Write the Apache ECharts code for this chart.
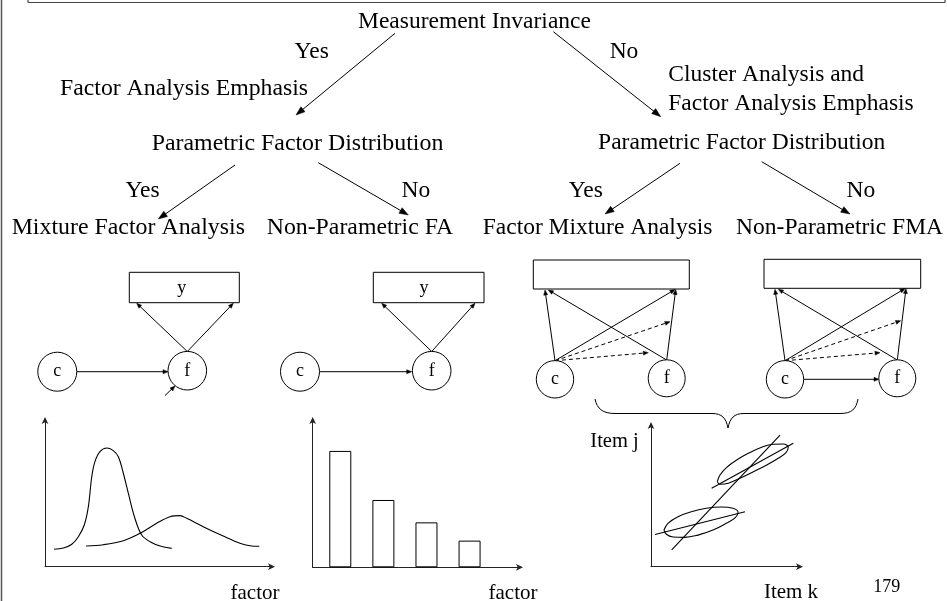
<!DOCTYPE html>
<html>
<head>
<meta charset="utf-8">
<script src="https://cdn.jsdelivr.net/npm/echarts@6/dist/echarts.min.js"></script>
<style>
html,body{margin:0;padding:0;background:#fff;}
#chart{width:947px;height:601px;}
</style>
</head>
<body>
<div id="chart"></div>
<script>
// ---------- DATA ----------
const rootLabel = 'Measurement Invariance';
const branchLabels = ['Yes', 'No'];
const emphasisLabels = ['Factor Analysis Emphasis', 'Cluster Analysis and', 'Factor Analysis Emphasis'];
const distLabel = 'Parametric Factor Distribution';
const modelNames = ['Mixture Factor Analysis', 'Non-Parametric FA', 'Factor Mixture Analysis', 'Non-Parametric FMA'];
const nodeLabels = ['c', 'f', 'y'];
const axisNames = ['factor', 'factor', 'Item j', 'Item k'];
const pageNumber = '179';

// left chart: two factor densities (x = factor, y = density)
const narrowDensity = [[4.0,11.9],[8.1,12.7],[11.8,15.3],[14.7,20.4],[17.3,28.4],[19.1,40.9],[20.6,61.3],[22.0,71.6],[24.2,78.4],[27.2,80.9],[29.8,79.5],[32.3,75.0],[34.5,63.7],[36.7,50.1],[39.6,33.0],[42.6,21.6],[46.3,17.0],[50.7,14.1],[55.8,12.5]];
const wideDensity = [[18.1,14.1],[25.7,15.0],[34.5,17.7],[41.9,22.8],[49.2,29.6],[55.1,34.1],[59.5,34.8],[62.4,33.0],[69.7,27.3],[78.5,20.9],[85.9,16.0],[90.3,14.3],[94.4,13.9]];

// middle chart: non-parametric factor distribution (mass points)
const massPoints = [1, 2, 3, 4];
const massValues = [79.0, 45.7, 30.5, 18.1];

// right chart: item k vs item j, two class ellipses and regression lines
const upperEllipse = [[44.5,60.0],[46.3,64.7],[50.8,70.1],[57.5,75.3],[65.3,80.0],[74.3,84.3],[82.1,86.4],[88.8,86.6],[92.1,84.3],[90.6,80.5],[85.4,76.5],[77.7,71.8],[68.7,67.0],[59.7,62.4],[51.9,58.9],[46.3,58.2],[44.5,60.0]];
const lowerEllipse = [[8.7,25.9],[11.4,30.6],[18.1,35.3],[27.0,38.8],[37.1,41.2],[47.2,42.1],[55.0,41.2],[58.4,38.4],[56.6,34.6],[50.5,30.6],[41.6,25.9],[31.5,22.3],[22.6,20.7],[14.8,21.0],[10.3,22.9],[8.7,25.9]];
const overallLine = [[13.9,11.8],[86.6,92.9]];
const upperClassLine = [[40.7,55.3],[95.5,87.1]];
const lowerClassLine = [[2.7,22.7],[63.1,38.8]];

// ---------- HELPERS ----------
const FONT = '"Liberation Serif", "Times New Roman", serif';
const mctx = document.createElement('canvas').getContext('2d');
function measure(str, fs) { mctx.font = fs + 'px ' + FONT; return mctx.measureText(str).width; }
function txt(str, x, y, w, fs, align) {
  const sx = w ? w / measure(str, fs) : 1;
  return {
    type: 'text', x: x, y: y, scaleX: sx, silent: true,
    style: { text: str, font: fs + 'px ' + FONT, fill: '#000',
      textAlign: align || 'center', align: align || 'center',
      textVerticalAlign: 'middle', verticalAlign: 'middle' }
  };
}
function seg(x1, y1, x2, y2, dash, color, lw) {
  return { type: 'line', silent: true, shape: { x1: x1, y1: y1, x2: x2, y2: y2 },
    style: { stroke: color || '#000', lineWidth: lw || 1, lineDash: dash ? [4, 3] : null } };
}
function arrow(x1, y1, x2, y2, L, W, dash) {
  const dx = x2 - x1, dy = y2 - y1, d = Math.hypot(dx, dy), ux = dx / d, uy = dy / d;
  const bx = x2 - ux * L, by = y2 - uy * L, px = -uy * W, py = ux * W;
  return [seg(x1, y1, bx + ux * 1, by + uy * 1, dash),
    { type: 'polygon', silent: true, shape: { points: [[x2, y2], [bx + px, by + py], [bx - px, by - py]] },
      style: { fill: '#000', stroke: '#000', lineWidth: 0.5 } }];
}
function circ(cx, cy, r) {
  return { type: 'circle', silent: true, shape: { cx: cx, cy: cy, r: r }, style: { fill: '#fff', stroke: '#000', lineWidth: 1 } };
}
function box(x, y, w, h) {
  return { type: 'rect', silent: true, shape: { x: x, y: y, width: w, height: h }, style: { fill: '#fff', stroke: '#000', lineWidth: 1 } };
}
function bez(x1, y1, c1x, c1y, c2x, c2y, x2, y2) {
  return { type: 'bezierCurve', silent: true, shape: { x1: x1, y1: y1, cpx1: c1x, cpy1: c1y, cpx2: c2x, cpy2: c2y, x2: x2, y2: y2 },
    style: { stroke: '#000', lineWidth: 1, fill: 'none' } };
}

const FS = 23.5, NFS = 18;
const g = [];
// frame
g.push(seg(1.5, 0, 1.5, 601, false, '#555', 1.5));
g.push(seg(28, 2.5, 945, 2.5, false, '#444', 1.2));
g.push(seg(28, 0, 28, 2.5, false, '#444', 1.2));
g.push(seg(945, 0, 945, 2.5, false, '#444', 1.2));

// decision tree texts
g.push(txt(rootLabel, 358, 21.5, 0, FS, 'left'));
g.push(txt(branchLabels[0], 311.7, 51.5, 0, FS));
g.push(txt(branchLabels[1], 624, 51.5, 0, FS));
g.push(txt(emphasisLabels[0], 60, 88.5, 248, FS, 'left'));
g.push(txt(emphasisLabels[1], 668.3, 74.5, 0, FS, 'left'));
g.push(txt(emphasisLabels[2], 668.3, 103.5, 0, FS, 'left'));
g.push(txt(distLabel, 297.5, 144, 291.7, FS));
g.push(txt(distLabel, 741.7, 142.5, 0, FS));
g.push(txt(branchLabels[0], 142.5, 191, 0, FS));
g.push(txt(branchLabels[1], 415.8, 191, 0, FS));
g.push(txt(branchLabels[0], 585.8, 191, 0, FS));
g.push(txt(branchLabels[1], 860.8, 191, 0, FS));
g.push(txt(modelNames[0], 128.3, 228, 233.3, FS));
g.push(txt(modelNames[1], 360, 228, 186.6, FS));
g.push(txt(modelNames[2], 482.7, 228, 0, FS, 'left'));
g.push(txt(modelNames[3], 943, 228, 0, FS, 'right'));

// decision tree arrows
g.push(...arrow(395, 33.3, 296, 115, 9, 3.2));
g.push(...arrow(553.3, 31.7, 660.7, 116.7, 9, 3.2));
g.push(...arrow(235, 165, 158.3, 219, 9, 3.2));
g.push(...arrow(318.3, 162.7, 408.3, 215, 9, 3.2));
g.push(...arrow(680, 163.3, 605, 214, 9, 3.2));
g.push(...arrow(761.7, 161.7, 850, 214, 9, 3.2));

// path diagram 1
const sA = 5, sW = 2;
g.push(box(129.3, 272.3, 110, 30.4));
g.push(txt(nodeLabels[2], 181.7, 288.3, 0, NFS));
g.push(...arrow(187.3, 351.5, 136.7, 303.3, sA, sW));
g.push(...arrow(187.3, 351.5, 233.3, 303.3, sA, sW));
g.push(...arrow(77, 371.7, 168, 371.7, sA, sW));
g.push(...arrow(165, 395.5, 175, 386, sA, sW));
g.push(circ(57.3, 371.7, 19.5));
g.push(circ(187.3, 370.7, 19.3));
g.push(txt(nodeLabels[0], 57.3, 371.5, 0, NFS));
g.push(txt(nodeLabels[1], 187.3, 371, 0, NFS));

// path diagram 2
g.push(box(373.3, 272.3, 110.7, 30.4));
g.push(txt(nodeLabels[2], 424, 288.3, 0, NFS));
g.push(...arrow(431.7, 351.5, 381.7, 303.3, sA, sW));
g.push(...arrow(431.7, 351.5, 475, 303.3, sA, sW));
g.push(...arrow(320, 371.7, 411.7, 371.7, sA, sW));
g.push(circ(300, 371.7, 19.5));
g.push(circ(431.7, 370.7, 19.3));
g.push(txt(nodeLabels[0], 300, 371.5, 0, NFS));
g.push(txt(nodeLabels[1], 431.7, 371, 0, NFS));

// path diagram 3
g.push(box(533.3, 260, 156, 29));
g.push(...arrow(555, 360.7, 545, 290, sA, sW));
g.push(...arrow(555, 360.7, 675, 289.5, sA, sW));
g.push(...arrow(555, 360.7, 670, 321.7, sA, sW, true));
g.push(...arrow(555, 360.7, 648.3, 352.7, sA, sW, true));
g.push(...arrow(666.7, 360, 548.3, 290, sA, sW));
g.push(...arrow(666.7, 360, 675.7, 289.5, sA, sW));
g.push(circ(555, 379.3, 18.7));
g.push(circ(666.7, 378.3, 18.5));
g.push(txt(nodeLabels[0], 555, 379, 0, NFS));
g.push(txt(nodeLabels[1], 666.7, 378.5, 0, NFS));

// path diagram 4
g.push(box(764, 259.3, 156.7, 29));
g.push(...arrow(785, 360.7, 775, 289.3, sA, sW));
g.push(...arrow(785, 360.7, 905, 288.5, sA, sW));
g.push(...arrow(785, 360.7, 900.7, 320.7, sA, sW, true));
g.push(...arrow(785, 360.7, 880, 352.7, sA, sW, true));
g.push(...arrow(897.3, 360, 778.3, 289.3, sA, sW));
g.push(...arrow(897.3, 360, 906, 288.5, sA, sW));
g.push(...arrow(803.5, 379.3, 879, 379.3, sA, sW));
g.push(circ(785, 379.3, 18.7));
g.push(circ(897.3, 378.3, 18.5));
g.push(txt(nodeLabels[0], 785, 379, 0, NFS));
g.push(txt(nodeLabels[1], 897.3, 378.5, 0, NFS));

// brace
g.push(bez(595, 399, 597, 409, 603, 413.5, 615, 413.5));
g.push(seg(615, 413.5, 712, 413.5));
g.push(bez(712, 413.5, 722, 413.5, 726, 418, 728, 428));
g.push(bez(728, 428, 730, 418, 734, 413.5, 744, 413.5));
g.push(seg(744, 413.5, 840, 413.5));
g.push(bez(840, 413.5, 852, 413.5, 856, 409, 858, 399));

// chart labels
g.push(txt(axisNames[0], 255, 593, 0, 21));
g.push(txt(axisNames[1], 513, 593, 0, 21));
g.push(txt(axisNames[2], 614.5, 441.5, 0, 20.5));
g.push(txt(axisNames[3], 791, 592, 0, 21));
g.push(txt(pageNumber, 886.7, 587, 0, 18));

// ---------- CHART ----------
function axis(gi, min, max) {
  return {
    type: 'value', gridIndex: gi, min: min, max: max,
    axisLine: { show: true, onZero: false, symbol: ['none', 'arrow'], symbolSize: [5, 7], symbolOffset: [0, 3], lineStyle: { color: '#222', width: 1 } },
    axisTick: { show: false }, axisLabel: { show: false }, splitLine: { show: false }
  };
}
const blackLine = { color: '#000', width: 1.1 };
const option = {
  backgroundColor: '#fff',
  animation: false,
  grid: [
    { left: 45, top: 420, width: 227, height: 146.7 },
    { left: 312.7, top: 420, width: 207.3, height: 147.3 },
    { left: 651, top: 425, width: 149, height: 141.7 }
  ],
  xAxis: [axis(0, 0, 100), axis(1, 0.36, 5.17), axis(2, 0, 100)],
  yAxis: [axis(0, 0, 100), axis(1, 0, 100), axis(2, 0, 100)],
  series: [
    { type: 'line', xAxisIndex: 0, yAxisIndex: 0, data: narrowDensity, smooth: 0.35, showSymbol: false, lineStyle: blackLine, silent: true },
    { type: 'line', xAxisIndex: 0, yAxisIndex: 0, data: wideDensity, smooth: 0.35, showSymbol: false, lineStyle: blackLine, silent: true },
    { type: 'bar', xAxisIndex: 1, yAxisIndex: 1, data: massPoints.map((p, i) => [p, massValues[i]]), barWidth: 22,
      itemStyle: { color: '#fff', borderColor: '#000', borderWidth: 1 }, silent: true },
    { type: 'line', xAxisIndex: 2, yAxisIndex: 2, data: upperEllipse, smooth: 0.4, showSymbol: false, lineStyle: blackLine, silent: true },
    { type: 'line', xAxisIndex: 2, yAxisIndex: 2, data: lowerEllipse, smooth: 0.4, showSymbol: false, lineStyle: blackLine, silent: true },
    { type: 'line', xAxisIndex: 2, yAxisIndex: 2, data: overallLine, showSymbol: false, lineStyle: blackLine, silent: true },
    { type: 'line', xAxisIndex: 2, yAxisIndex: 2, data: upperClassLine, showSymbol: false, lineStyle: blackLine, silent: true },
    { type: 'line', xAxisIndex: 2, yAxisIndex: 2, data: lowerClassLine, showSymbol: false, lineStyle: blackLine, silent: true }
  ],
  graphic: g
};
const chart = echarts.init(document.getElementById('chart'), null, { renderer: 'canvas' });
chart.setOption(option);
</script>
</body>
</html>
